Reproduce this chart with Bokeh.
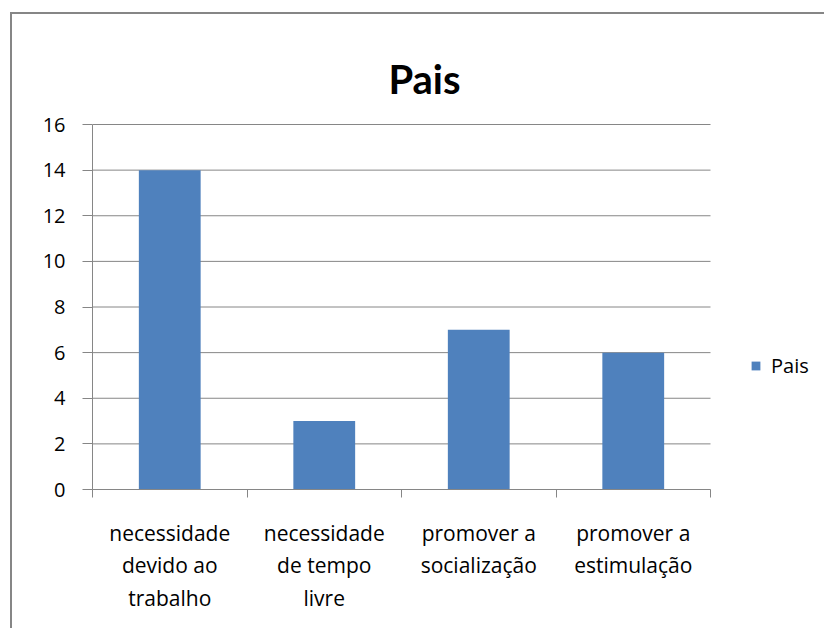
from bokeh.plotting import figure
from bokeh.models import (ColumnDataSource, Range1d, LinearAxis, FixedTicker, Legend, LegendItem, Label)
from bokeh.embed import file_html
from bokeh.resources import INLINE

# ---- data ----
categories = ["necessidade\ndevido ao\ntrabalho", "necessidade\nde tempo\nlivre",
              "promover a\nsocialização", "promover a\nestimulação"]
values = [14, 3, 7, 6]
series_name = "Pais"
y_ticks = [0, 2, 4, 6, 8, 10, 12, 14, 16]
Y_MAX = 16

GRAY = "#868686"
BLUE = "#4F81BD"
FONT = "Open Sans"

# layout (pixels)
PLOT_W = 618      # width of the bar area
PLOT_H = 365      # height of the bar area
RIGHT_W = 116     # legend area to the right of the bars, inside the frame
TOP_H = 110       # title area above the bars, inside the frame
TITLE_CX = 332    # title centre, from the left of the bar area
TITLE_BASE = 411  # title baseline, above the x axis

n = len(categories)
centers = [i + 0.5 for i in range(n)]
src = ColumnDataSource(dict(x=centers, cat=categories, val=values))
grid_src = ColumnDataSource(dict(y=y_ticks, x0=[0] * len(y_ticks), x1=[n] * len(y_ticks)))

p = figure(width=814, height=616, output_backend="svg", toolbar_location=None,
           x_range=Range1d(0, n * (PLOT_W + RIGHT_W) / PLOT_W),
           y_range=Range1d(0, Y_MAX * (PLOT_H + TOP_H) / PLOT_H),
           x_axis_location=None, y_axis_location=None,
           min_border_left=80, min_border_right=0, min_border_top=0, min_border_bottom=141)
p.styles = {"border-top": f"2px solid {GRAY}", "border-left": f"2px solid {GRAY}",
            "border-right": "none", "border-bottom": "none",
            "margin-left": "10px", "margin-top": "12px"}
p.outline_line_color = None
p.background_fill_color = "white"
p.border_fill_color = "white"
p.xgrid.grid_line_color = None
p.ygrid.grid_line_color = None

# horizontal gridlines limited to the bar area
p.segment(x0="x0", x1="x1", y0="y", y1="y", source=grid_src, line_color=GRAY, line_width=1)

r = p.vbar(x="x", top="val", width=0.4, source=src, fill_color=BLUE, line_color=None)

# y axis
yax = LinearAxis(ticker=FixedTicker(ticks=y_ticks), bounds=(0, Y_MAX))
yax.axis_line_color = GRAY
yax.major_tick_line_color = GRAY
yax.major_tick_out = 10
yax.major_tick_in = 0
yax.minor_tick_line_color = None
yax.major_label_text_font = FONT
yax.major_label_text_font_size = "20px"
yax.major_label_text_color = "#000000"
yax.major_label_standoff = 17
p.add_layout(yax, "left")

# x axis: category labels at centres, boundary ticks as minor ticks
xax = LinearAxis(ticker=FixedTicker(ticks=centers, minor_ticks=list(range(n + 1))), bounds=(0, n))
xax.major_label_overrides = {c: cat for c, cat in zip(centers, categories)}
xax.axis_line_color = GRAY
xax.major_tick_line_color = None
xax.major_tick_out = 0
xax.major_tick_in = 0
xax.minor_tick_line_color = GRAY
xax.minor_tick_out = 8
xax.minor_tick_in = 0
xax.major_label_text_font = FONT
xax.major_label_text_font_size = "21px"
xax.major_label_text_color = "#000000"
xax.major_label_text_line_height = 1.17
xax.major_label_standoff = 21
p.add_layout(xax, "below")

# title
title = Label(x=n * TITLE_CX / PLOT_W, y=Y_MAX * TITLE_BASE / PLOT_H, text=series_name,
              text_align="center", text_baseline="alphabetic", text_font="Lato",
              text_font_size="40px", text_font_style="bold", text_color="#000000")
p.add_layout(title)

# legend
legend = Legend(items=[LegendItem(label=series_name, renderers=[r])],
                location=(658, 110), orientation="vertical",
                glyph_width=11, glyph_height=11, label_standoff=10,
                label_text_font=FONT, label_text_font_size="20px", label_text_color="#000000",
                padding=0, margin=0, border_line_color=None, background_fill_alpha=0,
                label_height=20)
p.add_layout(legend, "center")

open("out.html", "w").write(file_html(p, INLINE))
